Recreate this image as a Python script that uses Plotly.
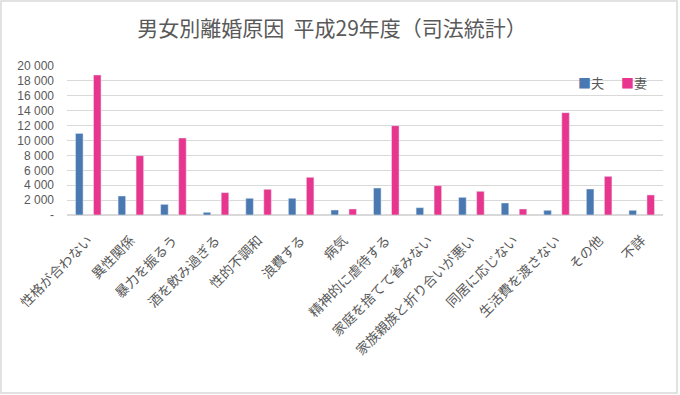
import plotly.graph_objects as go

categories = ["性格が合わない", "異性関係", "暴力を振るう", "酒を飲み過ぎる", "性的不調和",
              "浪費する", "病気", "精神的に虐待する", "家庭を捨てて省みない",
              "家族親族と折り合いが悪い", "同居に応じない", "生活費を渡さない", "その他", "不詳"]
husband = [10950, 2550, 1430, 360, 2240, 2240, 670, 3620, 980, 2370, 1610, 630, 3490, 630]
wife = [18800, 7960, 10340, 3000, 3450, 5060, 810, 11990, 3940, 3180, 810, 13740, 5190, 2690]
series_names = ["夫", "妻"]
y_tickvals = [0, 2000, 4000, 6000, 8000, 10000, 12000, 14000, 16000, 18000, 20000]
y_ticktext = ["-", "2 000", "4 000", "6 000", "8 000", "10 000", "12 000", "14 000", "16 000", "18 000", "20 000"]
title_text = "男女別離婚原因  平成29年度（司法統計）"

BLUE = "#4a78b0"
PINK = "#e8368f"
GRAY = "#595959"
FONT = "Noto Sans CJK JP"

fig = go.Figure()
fig.add_trace(go.Bar(x=categories, y=husband, name=series_names[0], marker_color=BLUE, showlegend=False))
fig.add_trace(go.Bar(x=categories, y=wife, name=series_names[1], marker_color=PINK, showlegend=False))

L, R, T, B = 67, 17, 66, 180
W, H = 680, 395
pw, ph = W - L - R, H - T - B

def px_x(x):
    return (x - L) / pw

def px_y(y):
    return (H - B - y) / ph

fig.update_layout(
    width=W, height=H,
    margin=dict(l=L, r=R, t=T, b=B, autoexpand=False),
    paper_bgcolor="white", plot_bgcolor="white",
    barmode="group", bargap=0.155, bargroupgap=0.58,
    font=dict(family=FONT, color=GRAY),
    title=dict(text=title_text, x=332 / W, xanchor="center", y=1 - 29 / H, yanchor="middle",
               font=dict(size=21, color=GRAY, family=FONT)),
    xaxis=dict(tickangle=-45, tickfont=dict(size=13.5, color=GRAY, family=FONT),
               showgrid=False, ticks="", showline=False, automargin=False,
               ticklabelstandoff=14),
    yaxis=dict(range=[0, 20000], tickvals=y_tickvals, ticktext=y_ticktext,
               tickfont=dict(size=12, color=GRAY, family="Liberation Sans"),
               showgrid=True, gridcolor="#d9d9d9", gridwidth=1, zeroline=True,
               zerolinecolor="#d9d9d9", ticks="", ticklabelstandoff=12, automargin=False),
    shapes=[dict(type="rect", xref="paper", yref="paper",
                 x0=px_x(1), x1=px_x(677), y0=px_y(393), y1=px_y(1),
                 line=dict(color="#d9d9d9", width=1.5), fillcolor="rgba(0,0,0,0)")],
    annotations=[
        dict(xref="paper", yref="paper", x=px_x(576), y=px_y(82), xanchor="left", yanchor="middle",
             text=f"<span style='color:{BLUE}'>■</span>{series_names[0]}", showarrow=False,
             font=dict(size=13, color=GRAY, family=FONT)),
        dict(xref="paper", yref="paper", x=px_x(619), y=px_y(82), xanchor="left", yanchor="middle",
             text=f"<span style='color:{PINK}'>■</span>{series_names[1]}", showarrow=False,
             font=dict(size=13, color=GRAY, family=FONT)),
    ],
)

fig.write_html("out.html", config={"displayModeBar": False},
               post_script="document.body.style.margin='0px';document.body.style.overflow='hidden';")
